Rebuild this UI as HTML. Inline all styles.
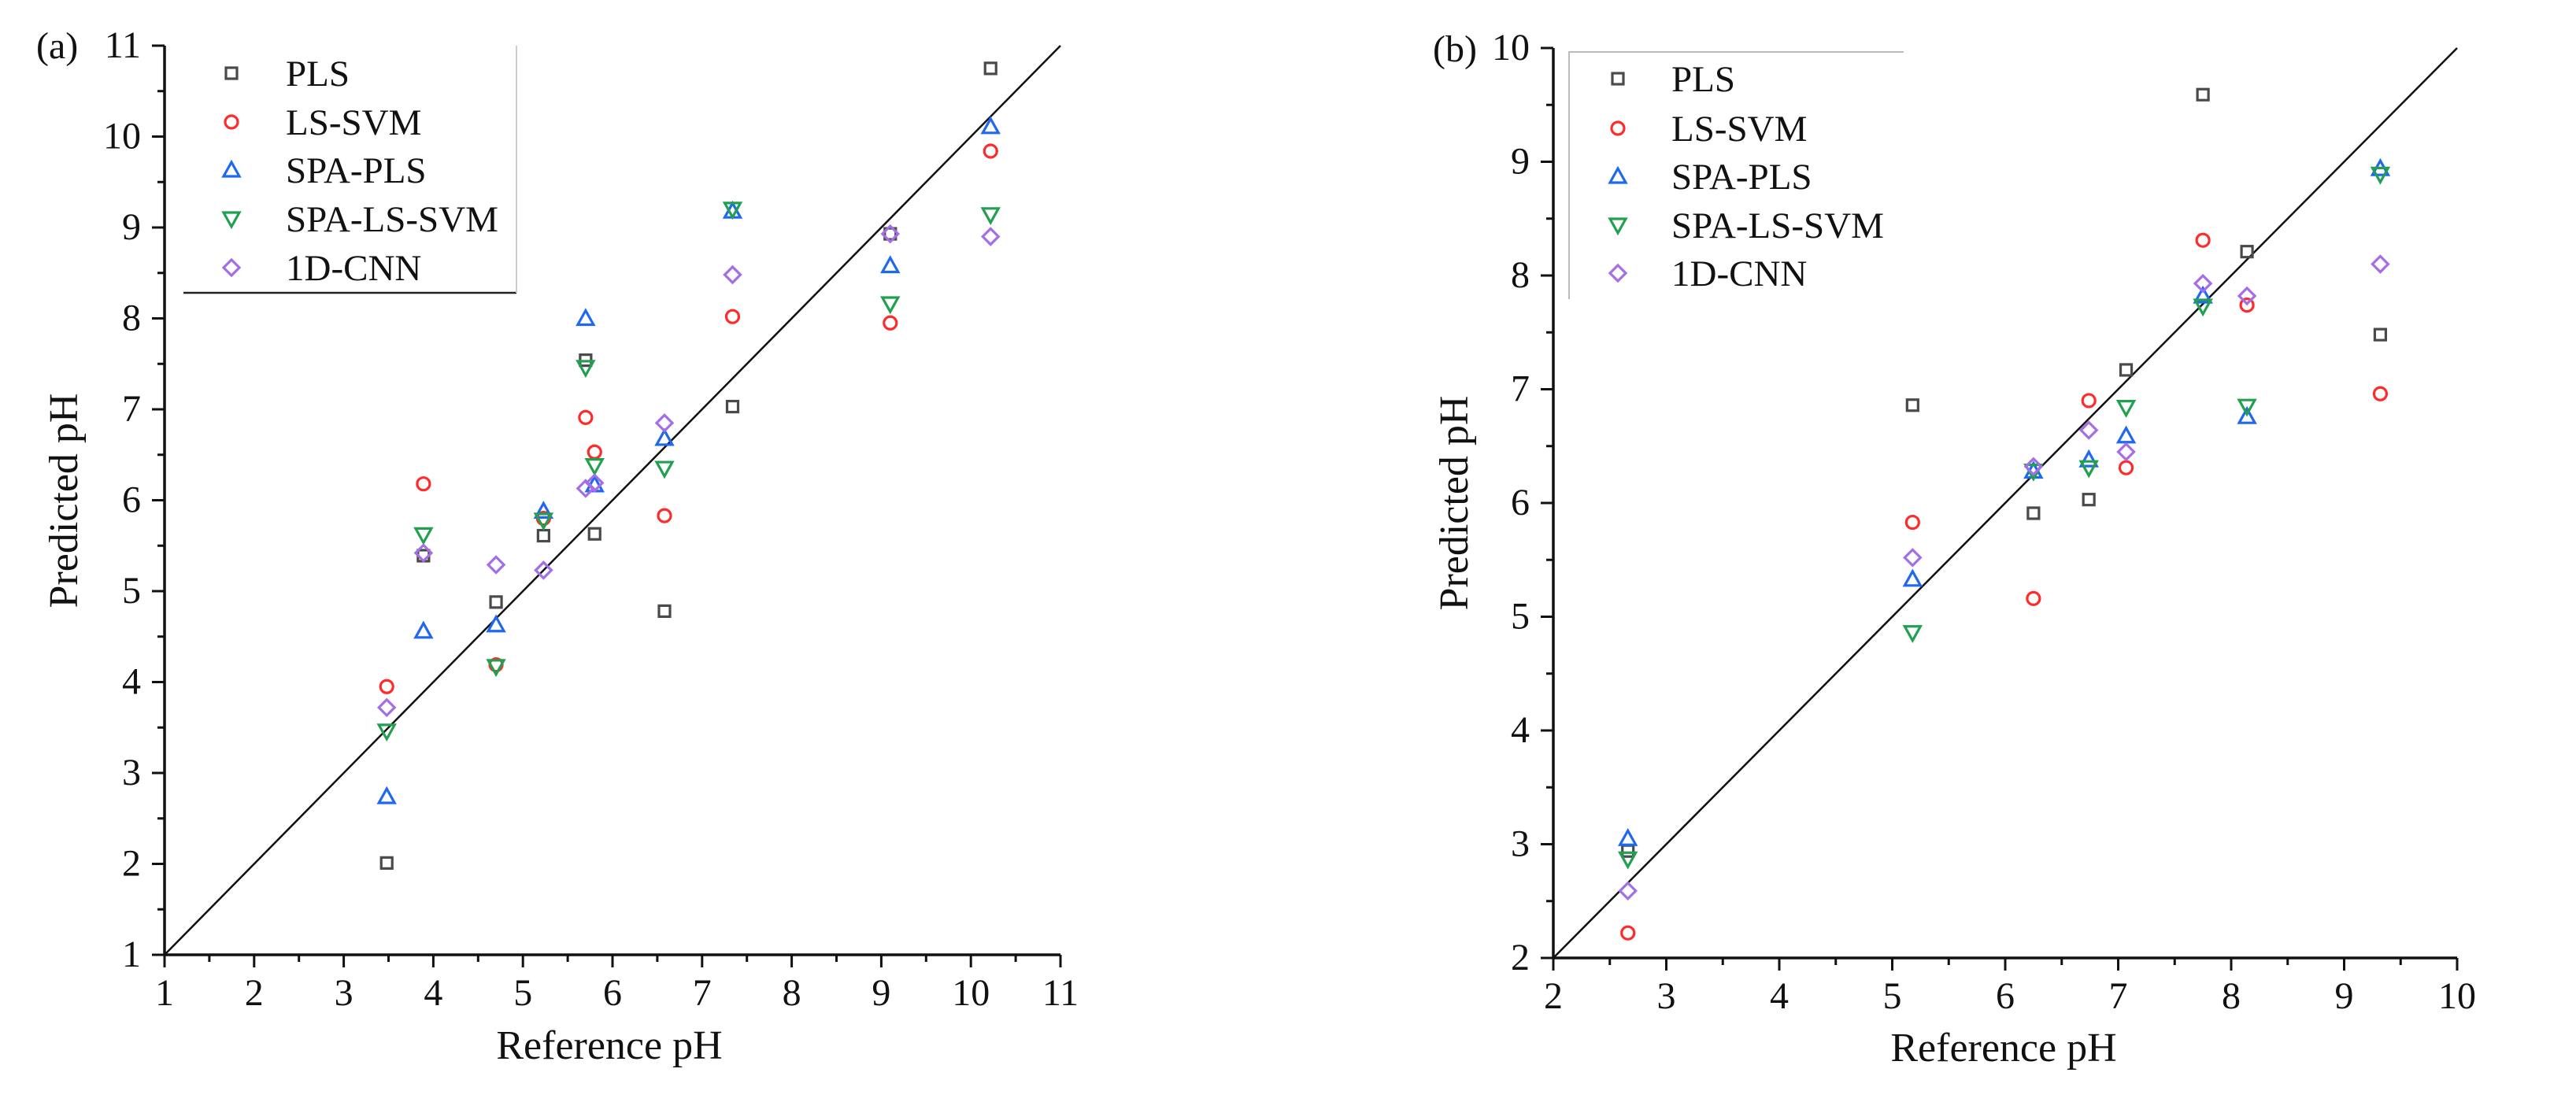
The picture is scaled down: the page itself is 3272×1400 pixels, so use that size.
<!DOCTYPE html>
<html><head><meta charset="utf-8"><style>
html,body{margin:0;padding:0;background:#fff;}
svg{display:block;font-family:"Liberation Serif",serif;}
</style></head><body>
<svg id="fig" width="3272" height="1400" viewBox="0 0 3272 1400" xmlns="http://www.w3.org/2000/svg"></svg>
<script>
// ---- Panel (a) data ----
const refA = [3.48,3.89,4.70,5.23,5.70,5.80,6.58,7.34,9.10,10.22];
const plsA = [2.01,5.39,4.88,5.61,7.54,5.63,4.78,7.03,8.93,10.75];
const lssvmA = [3.95,6.18,4.19,5.80,6.91,6.53,5.83,8.02,7.95,9.84];
const spaplsA = [2.74,4.56,4.63,5.88,8.00,6.17,6.68,9.18,8.58,10.11];
const spalssvmA = [3.46,5.62,4.17,5.78,7.46,6.38,6.35,9.20,8.16,9.14];
const cnnA = [3.72,5.42,5.29,5.23,6.13,6.19,6.85,8.48,8.93,8.90];
const ticksA = [1,2,3,4,5,6,7,8,9,10,11];
// ---- Panel (b) data ----
const refB = [2.66,5.18,6.25,6.74,7.07,7.75,8.14,9.32];
const plsB = [2.94,6.86,5.91,6.03,7.17,9.59,8.21,7.48];
const lssvmB = [2.22,5.83,5.16,6.90,6.31,8.31,7.74,6.96];
const spaplsB = [3.05,5.33,6.28,6.38,6.59,7.82,6.76,8.94];
const spalssvmB = [2.87,4.86,6.28,6.31,6.84,7.73,6.85,8.89];
const cnnB = [2.59,5.52,6.32,6.64,6.45,7.93,7.82,8.10];
const ticksB = [2,3,4,5,6,7,8,9,10];
const seriesNames = ["PLS","LS-SVM","SPA-PLS","SPA-LS-SVM","1D-CNN"];

const NS="http://www.w3.org/2000/svg";
const svg=document.getElementById('fig');
function el(tag,attrs,parent){const e=document.createElementNS(NS,tag);for(const k in attrs)e.setAttribute(k,attrs[k]);(parent||svg).appendChild(e);return e;}
const colors=["#4a4a4a","#ff2b2b","#1f68f0","#22a050","#a46ee6"];
const shapes=["square","circle","tri","tridown","diamond"];

function marker(g,shape,cx,cy,color){
  const st={fill:"none",stroke:color,"stroke-width":3.2};
  let m;
  if(shape==="square"){m=el('rect',Object.assign({x:cx-7,y:cy-7,width:14,height:14},st),g);}
  else if(shape==="circle"){m=el('circle',Object.assign({cx:cx,cy:cy,r:8},st),g);}
  else if(shape==="tri"){m=el('polygon',Object.assign({points:`${cx},${cy-10} ${cx+10},${cy+8} ${cx-10},${cy+8}`},st),g);}
  else if(shape==="tridown"){m=el('polygon',Object.assign({points:`${cx},${cy+10} ${cx+10},${cy-8} ${cx-10},${cy-8}`},st),g);}
  else {m=el('polygon',Object.assign({points:`${cx},${cy-10} ${cx+10},${cy} ${cx},${cy+10} ${cx-10},${cy}`},st),g);}
  return m;
}

function panel(cfg){
  const g=el('g',{});
  
  
  const sx=v=>cfg.x0+(v-cfg.min)/(cfg.max-cfg.min)*(cfg.x1-cfg.x0);
  const sy=v=>cfg.y0-(v-cfg.min)/(cfg.max-cfg.min)*(cfg.y0-cfg.y1);
  const ax=el('path',{d:`M${cfg.x0},${cfg.y1} L${cfg.x0},${cfg.y0} L${cfg.x1},${cfg.y0}`,fill:"none",stroke:"#111","stroke-width":3.5},g);
  
  
  const tg=el('g',{stroke:"#111","stroke-width":3},g);
  for(let i=0;i<cfg.ticks.length;i++){
    const v=cfg.ticks[i];
    el('line',{x1:sx(v),y1:cfg.y0,x2:sx(v),y2:cfg.y0+16},tg);
    el('line',{x1:cfg.x0,y1:sy(v),x2:cfg.x0-16,y2:sy(v)},tg);
    if(i<cfg.ticks.length-1){
      const h=v+0.5;
      el('line',{x1:sx(h),y1:cfg.y0,x2:sx(h),y2:cfg.y0+9},tg);
      el('line',{x1:cfg.x0,y1:sy(h),x2:cfg.x0-9,y2:sy(h)},tg);
    }
    const xl=el('text',{x:sx(v),y:cfg.y0+64,"font-size":48,"text-anchor":"middle",fill:"#111"},g);
    xl.textContent=v;
    
    
    const yl=el('text',{x:cfg.x0-30,y:sy(v)+15,"font-size":48,"text-anchor":"end",fill:"#111"},g);
    yl.textContent=v;
    
    
  }
  const dl=el('line',{x1:sx(cfg.min),y1:sy(cfg.min),x2:sx(cfg.max),y2:sy(cfg.max),stroke:"#111","stroke-width":2.5},g);
  
  
  const lg=el('g',{},g);
  
  
  el('path',{d:cfg.legendFrame,fill:"none",stroke:cfg.legendStroke,"stroke-width":cfg.legendW},lg);
  if(cfg.legendFrame2) el('path',{d:cfg.legendFrame2,fill:"none",stroke:"#ccc","stroke-width":2},lg);
  for(let s=0;s<5;s++){
    const le=el('g',{},lg);
    
    
    marker(le,shapes[s],cfg.lmx,cfg.lrows[s],colors[s]);
    const t=el('text',{x:cfg.ltx,y:cfg.lrows[s]+16,"font-size":47,fill:"#111"},le);
    t.textContent=seriesNames[s];
  }
  for(let s=0;s<5;s++){
    const sg=el('g',{},g);
    
    
    const vals=cfg.series[s];
    for(let i=0;i<cfg.ref.length;i++){
      const m=marker(sg,shapes[s],sx(cfg.ref[i]),sy(vals[i]),colors[s]);
      
      
    }
  }
  const xt=el('text',{x:cfg.xtx,y:cfg.xty,"font-size":52,"text-anchor":"middle",fill:"#111"},g);
  xt.textContent="Reference pH";
  
  
  const yt=el('text',{x:0,y:0,"font-size":52,"text-anchor":"middle",fill:"#111",transform:`translate(${cfg.ytx},${cfg.yty}) rotate(-90)`},g);
  yt.textContent="Predicted pH";
  
  
  const pl=el('text',{x:cfg.plx,y:cfg.ply,"font-size":48,fill:"#111"},g);
  pl.textContent=cfg.label;
  
  
}

panel({name:"panel-a",min:1,max:11,x0:209,x1:1347,y0:1213,y1:58,ticks:ticksA,ref:refA,
  series:[plsA,lssvmA,spaplsA,spalssvmA,cnnA],
  legendFrame:"M233,372 L656,372",legendFrame2:"M656,372 L656,58",legendStroke:"#222",legendW:2.5,
  lmx:294,ltx:363,lrows:[93,155,216,278,340],
  xtx:774,xty:1345,ytx:98,yty:636,label:"(a)",plx:46,ply:74});
panel({name:"panel-b",min:2,max:10,x0:1973,x1:3121,y0:1217,y1:61,ticks:ticksB,ref:refB,
  series:[plsB,lssvmB,spaplsB,spalssvmB,cnnB],
  legendFrame:"M1993,380 L1993,66 L2418,66",legendStroke:"#bbb",legendW:2,
  lmx:2055,ltx:2123,lrows:[100,163,224,286,347],
  xtx:2545,xty:1348,ytx:1864,yty:639,label:"(b)",plx:1820,ply:78});
</script>
</body></html>
